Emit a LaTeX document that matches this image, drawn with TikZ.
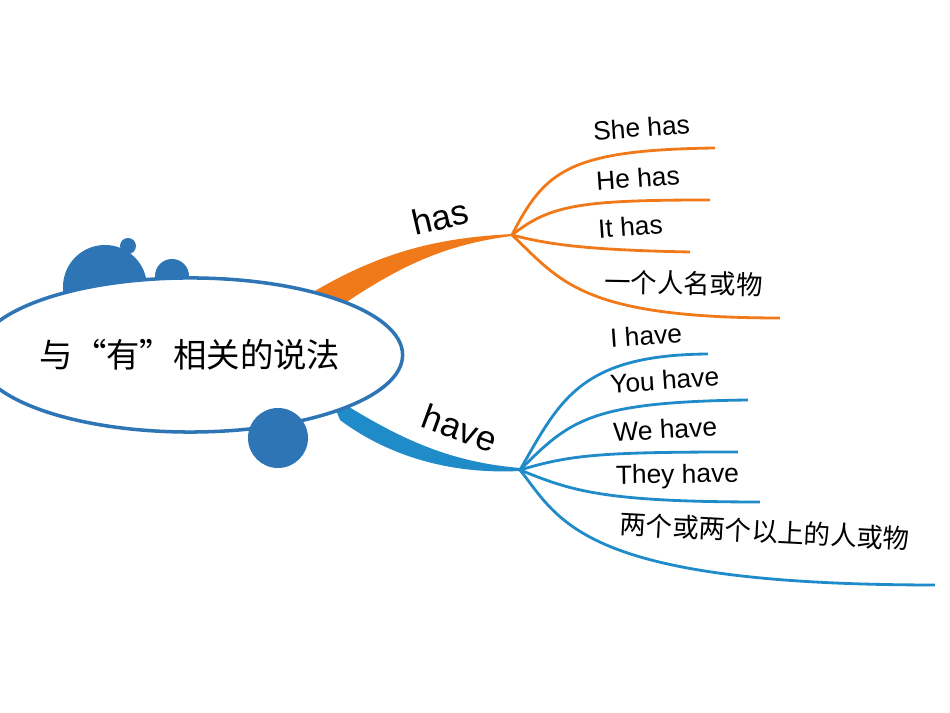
\documentclass[tikz,border=0pt]{standalone}
\usepackage{fontspec}
\usetikzlibrary{shapes.geometric}
\setmainfont{Liberation Sans}
\newfontfamily\cjk{Noto Sans CJK SC}
\definecolor{bl}{HTML}{2E75B6}
\definecolor{lb}{HTML}{1F8BC9}
\definecolor{og}{HTML}{F07A1A}
\begin{document}
\begin{tikzpicture}[x=0.01cm,y=-0.01cm]
\tikzset{lab/.style={font=\fontsize{7.5}{9}\selectfont,rotate=4,anchor=south west,inner sep=1pt},
 orl/.style={draw=og,line width=0.8pt},bll/.style={draw=lb,line width=0.8pt}}
\useasboundingbox (0,0) rectangle (950,713);
% circles
\fill[bl] (105,287) circle (42);
\fill[bl] (172,276) circle (17);
\fill[bl] (128,246) circle (8);
% main branches
\fill[og] (300,300) .. controls (380,250) and (440,238) .. (512,234) -- (512,236) .. controls (440,245) and (390,270) .. (318,322) -- cycle;
\fill[lb] (330,395) .. controls (400,440) and (450,462) .. (520,468) -- (520,471) .. controls (440,475) and (380,450) .. (340,420) -- cycle;
\node[draw=bl,line width=1pt,fill=white,ellipse,inner sep=0pt,minimum width=3.28cm,minimum height=1.54cm,font=\cjk\fontsize{9.5}{11}\selectfont] (e) at (190,355) {与“有”相关的说法};
\fill[bl] (278,438) circle (30);
\node[font=\fontsize{10}{12}\selectfont,rotate=13] (has) at (440,217) {has};
\node[font=\fontsize{10}{12}\selectfont,rotate=-20] (have) at (460,428) {have};
\coordinate (o) at (512,235);
\coordinate (b) at (520,470);
% orange subs
\draw[orl] (o) .. controls (545,170) and (570,150) .. (715,148);
\draw[orl] (o) .. controls (550,205) and (580,200) .. (710,200);
\draw[orl] (o) .. controls (550,245) and (590,250) .. (690,252);
\draw[orl] (o) .. controls (560,280) and (580,318) .. (780,318);
\node[lab] at (590,145) {She has};
\node[lab] at (593,195) {He has};
\node[lab] at (595,243) {It has};
\node[lab,font=\cjk\fontsize{7.5}{9}\selectfont,rotate=-5] at (600,298) {一个人名或物};
% blue subs
\draw[bll] (b) .. controls (560,400) and (580,355) .. (708,354);
\draw[bll] (b) .. controls (570,420) and (590,402) .. (748,400);
\draw[bll] (b) .. controls (570,455) and (600,452) .. (738,452);
\draw[bll] (b) .. controls (570,490) and (600,502) .. (760,502);
\draw[bll] (b) .. controls (560,520) and (580,585) .. (935,585);
\node[lab] at (607,352) {I have};
\node[lab] at (607,398) {You have};
\node[lab,rotate=-1] at (610,446) {We have};
\node[lab,rotate=-3] at (612,494) {They have};
\node[lab,font=\cjk\fontsize{7.5}{9}\selectfont,rotate=-7] at (615,540) {两个或两个以上的人或物};
\end{tikzpicture}
\end{document}
